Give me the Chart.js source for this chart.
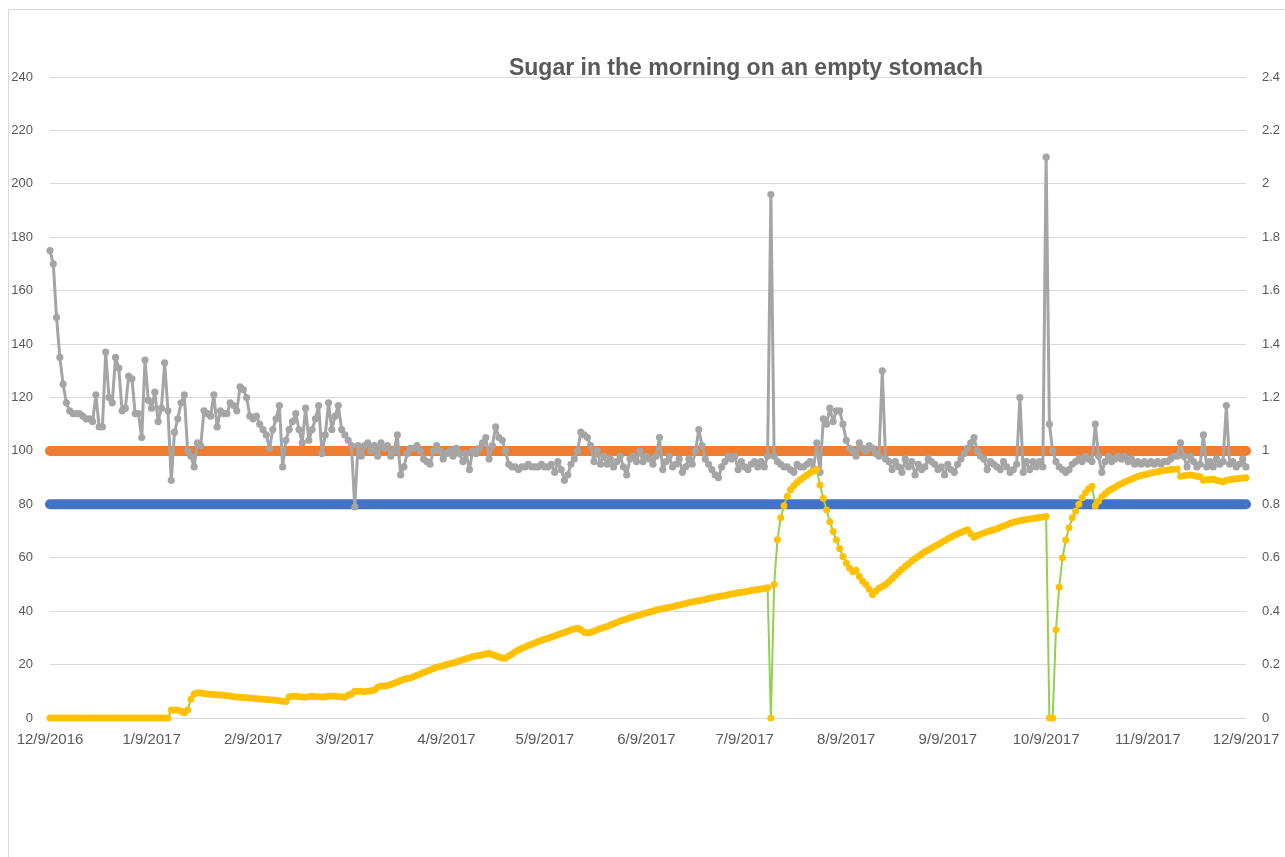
<!DOCTYPE html>
<html><head><meta charset="utf-8">
<script src="https://cdn.jsdelivr.net/npm/chart.js@4.4.0/dist/chart.umd.min.js"></script>
<style>html,body{margin:0;padding:0;background:#fff;}canvas{display:block;}</style>
</head><body>
<canvas id="c" width="1285" height="857"></canvas>
<script>
const chartTitle = "Sugar in the morning on an empty stomach";
const tickDays = [0,31,62,90,121,151,182,212,243,274,304,335,365];
const tickLabels = ["12/9/2016","1/9/2017","2/9/2017","3/9/2017","4/9/2017","5/9/2017","6/9/2017","7/9/2017","8/9/2017","9/9/2017","10/9/2017","11/9/2017","12/9/2017"];
const upperLimit = 100;
const lowerLimit = 80;
const sugar = [
175,170,150,135,125,118,115,114,114,114,
113,112,112,111,121,109,109,137,120,118,
135,131,115,116,128,127,114,114,105,134,
119,116,122,111,116,133,115,89,107,112,
118,121,100,98,94,103,102,115,114,113,
121,109,115,114,114,118,117,115,124,123,
120,113,112,113,110,108,106,101,108,112,
117,94,104,108,111,114,108,103,116,104,
108,112,117,99,106,118,108,113,117,108,
106,104,102,79,102,98,102,103,100,102,
98,103,101,102,98,100,106,91,94,99,
101,101,102,100,97,96,95,100,102,100,
97,99,
100,98,101,99,96,99,93,100,
99,101,103,105,97,102,109,105,104,100,
95,94,94,93,94,94,95,94,94,94,
95,94,94,95,92,96,93,89,91,95,
97,100,107,106,105,102,96,100,95,98,
95,97,94,96,98,94,91,97,98,96,
100,
96,98,97,95,98,105,93,96,98,
94,95,97,92,94,97,95,100,108,102,
97,95,93,91,90,94,96,98,97,98,
93,96,94,93,95,96,94,96,94,98,
196,98,96,95,94,94,93,92,95,94,
94,95,96,93,103,92,112,110,116,111,
115,
115,110,104,101,100,98,103,101,100,
102,101,99,98,130,97,96,93,96,94,
92,97,94,96,91,95,93,94,97,96,
95,93,94,91,95,93,92,95,97,99,
101,103,105,100,98,97,93,96,95,94,
93,96,94,92,93,95,120,92,96,93,
96,94,96,94,210,110,100,
96,94,93,
92,93,95,96,97,96,98,97,96,110,
98,92,96,98,96,97,98,97,98,96,
97,95,96,95,96,95,96,95,96,95,
96,96,97,98,98,103,98,94,98,96,
94,95,106,94,96,94,97,95,96,117,
95,96,94,95,97,94
];
const ratio = [
0,0,0,0,0,0,0,0,0,0,0,0,0,0,0,0,0,0,0,0,0,0,0,0,0,0,0,0,0,0,0,0,0,0,0,0,0,
0.03,0.03,0.03,0.025,0.02,0.03,0.07,0.09,0.095,0.094,
0.092,0.09,0.089,0.088,0.087,0.086,0.085,0.083,0.082,0.08,
0.079,0.078,0.077,0.076,0.075,0.074,0.072,0.071,0.07,0.069,
0.068,0.067,0.066,0.065,0.063,0.062,0.08,0.081,0.081,0.08,
0.079,0.078,0.08,0.081,0.08,0.08,0.079,0.08,0.081,0.082,
0.081,0.08,0.08,0.078,0.085,0.09,0.1,0.1,0.1,0.098,
0.1,0.102,0.105,0.115,0.12,0.12,0.122,0.125,0.13,0.135,
0.14,0.145,0.148,0.15,0.155,0.16,0.165,0.17,0.175,0.18,
0.185,0.19,0.193,0.196,0.2,0.203,0.206,0.21,0.214,0.218,
0.222,0.226,0.23,0.232,0.234,0.237,0.24,0.242,0.238,0.233,
0.228,0.225,0.224,0.232,0.24,0.248,0.255,0.261,0.266,0.271,
0.276,0.281,0.286,0.291,0.295,0.299,0.303,0.307,0.312,0.316,
0.32,0.325,0.33,0.333,0.336,0.33,0.322,0.318,0.32,0.325,
0.33,0.335,0.339,0.343,0.348,0.353,0.358,0.363,0.367,0.371,
0.375,0.379,0.383,0.386,0.39,0.393,0.397,0.4,0.404,0.407,
0.409,0.412,0.415,0.417,0.42,0.423,0.426,0.429,0.432,0.434,
0.437,0.439,0.442,0.444,0.447,0.45,0.452,0.455,0.457,0.459,
0.461,0.464,0.466,0.469,0.471,0.473,0.475,0.477,0.479,0.481,
0.483,0.485,0.488,0,0.5,0.667,0.75,0.795,0.83,0.855,
0.87,0.882,0.892,0.901,0.91,0.918,0.925,0.93,0.872,0.823,
0.779,0.735,0.698,0.666,0.635,0.605,0.58,0.562,0.548,0.553,
0.53,0.512,0.5,0.482,0.462,0.475,0.486,0.492,0.5,0.51,
0.522,0.534,0.546,0.557,0.568,0.578,0.588,0.597,0.606,0.614,
0.622,0.629,0.636,0.643,0.65,0.657,0.664,0.671,0.678,0.684,
0.69,0.695,0.7,0.705,0.69,0.677,0.683,0.688,0.693,0.697,
0.701,0.705,0.709,0.714,0.719,0.724,0.729,0.733,0.736,0.739,
0.741,0.743,0.745,0.747,0.749,0.751,0.753,0.754,0,0,
0.33,0.49,0.6,0.666,0.712,0.75,0.775,0.8,0.825,0.843,
0.858,0.868,0.795,0.812,0.828,0.84,0.85,0.857,0.864,0.871,
0.877,0.884,0.889,0.894,0.9,0.904,0.908,0.911,0.914,0.917,
0.92,0.922,0.925,0.927,0.929,0.93,0.931,0.932,0.905,0.907,
0.909,0.91,0.908,0.905,0.903,0.89,0.892,0.893,0.894,0.89,
0.887,0.885,0.89,0.892,0.894,0.896,0.897,0.899,0.9
];

const dayIndex = sugar.map((_, i) => i);
const lastDay = tickDays[tickDays.length - 1];
const FONT = '"Liberation Sans", Arial, sans-serif';
const TEXT = '#595959';
Chart.defaults.font.family = FONT;
Chart.defaults.color = TEXT;

const framePlugin = {
  id: 'frame',
  beforeDraw(chart) {
    const ctx = chart.ctx;
    ctx.save();
    ctx.fillStyle = '#fff';
    ctx.fillRect(0, 0, chart.width, chart.height);
    ctx.strokeStyle = '#D9D9D9';
    ctx.lineWidth = 1;
    ctx.beginPath();
    ctx.moveTo(8.5, chart.height);
    ctx.lineTo(8.5, 9.5);
    ctx.lineTo(chart.width, 9.5);
    ctx.stroke();
    ctx.restore();
  },
  afterDraw(chart) {
    const ctx = chart.ctx;
    ctx.save();
    ctx.font = 'bold 23px ' + FONT;
    ctx.fillStyle = TEXT;
    ctx.textAlign = 'center';
    ctx.textBaseline = 'alphabetic';
    ctx.fillText(chartTitle, 746, 75);
    ctx.restore();
  }
};

new Chart(document.getElementById('c'), {
  type: 'line',
  data: {
    labels: dayIndex,
    datasets: [
      {
        label: 'ratio', data: ratio, yAxisID: 'y1',
        borderColor: '#92D050', borderWidth: 2, borderJoinStyle: 'round',
        pointRadius: 3.5, pointBackgroundColor: '#FFC000', pointBorderColor: '#FFC000', pointBorderWidth: 0,
        tension: 0, clip: false
      },
      {
        label: 'sugar', data: sugar, yAxisID: 'y',
        borderColor: '#A5A5A5', borderWidth: 3, borderJoinStyle: 'round',
        pointRadius: 3.6, pointBackgroundColor: '#A5A5A5', pointBorderColor: '#A5A5A5', pointBorderWidth: 0,
        tension: 0, clip: false
      },
      {
        label: 'upper', data: [{x: 0, y: upperLimit}, {x: lastDay, y: upperLimit}], yAxisID: 'y',
        borderColor: '#ED7D31', borderWidth: 10, borderCapStyle: 'round', pointRadius: 0, clip: false
      },
      {
        label: 'lower', data: [{x: 0, y: lowerLimit}, {x: lastDay, y: lowerLimit}], yAxisID: 'y',
        borderColor: '#4472C4', borderWidth: 10, borderCapStyle: 'round', pointRadius: 0, clip: false
      }
    ]
  },
  options: {
    responsive: false,
    animation: false,
    devicePixelRatio: 1,
    layout: { padding: { top: 77, bottom: 99, left: 0, right: 0 } },
    plugins: { legend: { display: false }, tooltip: { enabled: false }, title: { display: false } },
    scales: {
      x: {
        type: 'linear', min: 0, max: lastDay,
        afterBuildTicks: (s) => { s.ticks = tickDays.map(v => ({ value: v })); },
        afterFit: (s) => { s.height = 40; },
        ticks: {
          autoSkip: false, maxRotation: 0, minRotation: 0, padding: 3,
          font: { size: 15 }, color: TEXT,
          callback: (v) => { const k = tickDays.indexOf(v); return k >= 0 ? tickLabels[k] : ''; }
        },
        grid: { display: false, drawTicks: true, tickLength: 10 },
        border: { display: false }
      },
      y: {
        position: 'left', min: 0, max: 240,
        afterFit: (s) => { s.width = 50; },
        ticks: { stepSize: 20, padding: 17, font: { size: 13 }, color: TEXT },
        grid: { color: '#D9D9D9', lineWidth: 1, drawTicks: false },
        border: { display: false }
      },
      y1: {
        position: 'right', min: 0, max: 2.4,
        afterFit: (s) => { s.width = 39; },
        ticks: { stepSize: 0.2, padding: 16, font: { size: 13 }, color: TEXT,
          callback: (v) => String(Number(v.toFixed(1))) },
        grid: { drawOnChartArea: false, drawTicks: false },
        border: { display: false }
      }
    }
  },
  plugins: [framePlugin]
});
</script>
</body></html>
